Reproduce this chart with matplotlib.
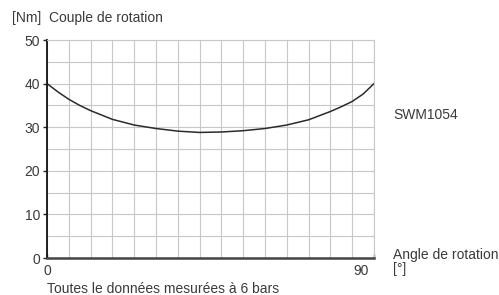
import numpy as np
import matplotlib.pyplot as plt
from matplotlib.transforms import ScaledTranslation

# Couple de rotation (Nm) en fonction de l'angle (deg)
angle = [0, 3, 6, 9, 12, 18, 24, 30, 36, 42, 48, 54, 60, 66, 72, 78, 81,
         84, 87, 88.5, 90]
couple = [40.0, 38.1, 36.4, 35.0, 33.8, 31.8, 30.5, 29.7, 29.1, 28.8, 28.9,
          29.2, 29.7, 30.5, 31.7, 33.6, 34.7, 35.9, 37.6, 38.8, 40.0]

y_ticks = [0, 10, 20, 30, 40, 50]
x_ticks = [0, 90]
serie = "SWM1054"

plt.rcParams['font.family'] = ['Liberation Sans', 'DejaVu Sans']
txt = "#3a3a3a"
fs = 10

fig = plt.figure(figsize=(4.99, 2.95), dpi=100)
ax = fig.add_axes([0.0942, 0.1254, 0.6553, 0.739])

ax.plot(angle, couple, color="#2b2b2b", lw=1.1)

ax.set_xlim(0, 90)
ax.set_ylim(0, 50)
ax.set_xticks(np.arange(0, 91, 6), minor=True)
ax.set_yticks(np.arange(0, 51, 5), minor=True)
ax.set_xticks(x_ticks)
ax.set_yticks(y_ticks)
ax.grid(which="both", color="#c8c8c8", lw=0.8)
ax.tick_params(which="minor", length=0)
ax.tick_params(axis="y", which="major", length=3, width=1, color="#222",
               labelsize=fs, labelcolor=txt, pad=2)
ax.tick_params(axis="x", which="major", length=3, width=1, color="#222",
               labelsize=fs, labelcolor=txt, pad=4, direction="in")

# le "90" est decale a gauche du trait
lbl = ax.get_xticklabels()[-1]
lbl.set_horizontalalignment("right")
lbl.set_transform(lbl.get_transform() + ScaledTranslation(-0.05, 0, fig.dpi_scale_trans))

for s in ["top", "right"]:
    ax.spines[s].set_color("#c8c8c8")
    ax.spines[s].set_linewidth(0.8)
ax.spines["left"].set_color("#111")
ax.spines["left"].set_linewidth(1.3)
ax.spines["bottom"].set_color("#444")
ax.spines["bottom"].set_linewidth(1.8)
ax.set_axisbelow(True)

fig.text(12 / 499, 1 - 18 / 295, "[Nm]  Couple de rotation", fontsize=fs,
         color=txt, va="center")
fig.text(393 / 499, 1 - 115 / 295, serie, fontsize=fs, color=txt, va="center")
fig.text(393 / 499, 1 - 255 / 295, "Angle de rotation", fontsize=fs,
         color=txt, va="center")
fig.text(393 / 499, 1 - 269 / 295, "[°]", fontsize=fs, color=txt, va="center")
fig.text(47 / 499, 1 - 289 / 295, "Toutes le données mesurées à 6 bars",
         fontsize=fs, color=txt, va="center")

fig.savefig("out.png", dpi=100)
